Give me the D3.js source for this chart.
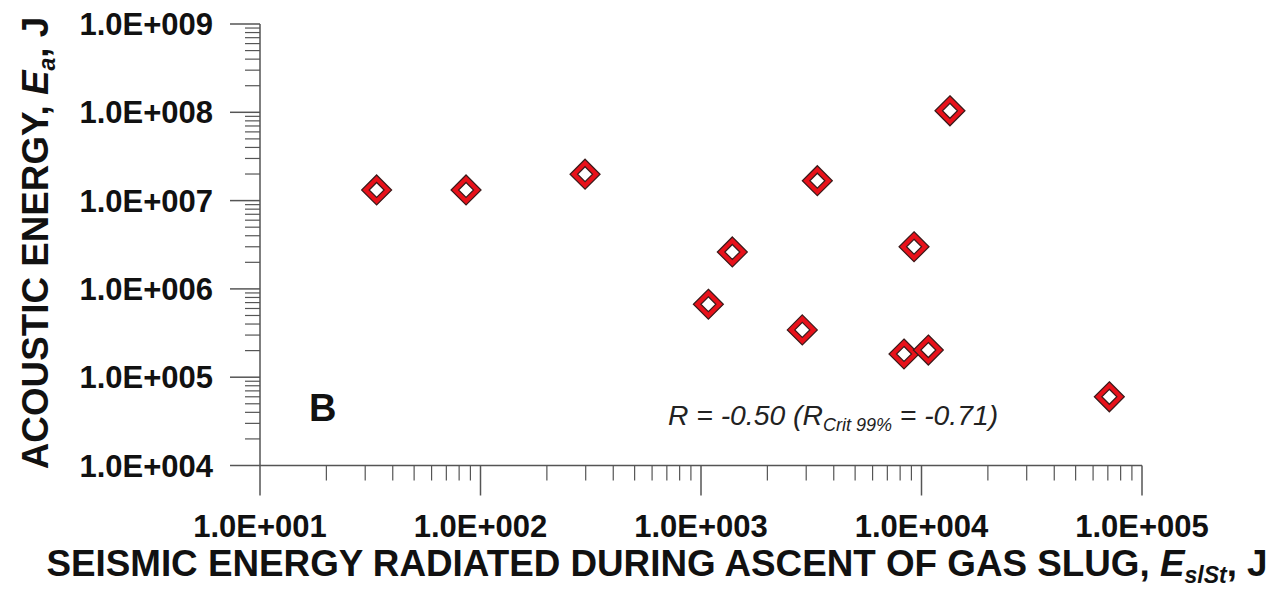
<!DOCTYPE html>
<html><head><meta charset="utf-8">
<script src="https://cdn.jsdelivr.net/npm/d3@7"></script>
<style>body{margin:0;background:#fff}svg{display:block}</style>
</head><body>
<svg id="c" width="1286" height="591"></svg>
<script>
const seismicEnergy = [33.8, 86, 298, 13460, 3370, 1387, 9250, 1080, 2880, 8330, 10740, 71100];
const acousticEnergy = [1.32e7, 1.32e7, 1.99e7, 1.04e8, 1.68e7, 2.62e6, 3.0e6, 6.7e5, 3.43e5, 1.83e5, 2.03e5, 6.0e4];
const xTicks = [1e1, 1e2, 1e3, 1e4, 1e5];
const yTicks = [1e4, 1e5, 1e6, 1e7, 1e8, 1e9];
const xTickLabels = ["1.0E+001", "1.0E+002", "1.0E+003", "1.0E+004", "1.0E+005"];
const yTickLabels = ["1.0E+004", "1.0E+005", "1.0E+006", "1.0E+007", "1.0E+008", "1.0E+009"];

const svg = d3.select("#c");
const FONT = "'Liberation Sans', Arial, sans-serif";
const x = d3.scaleLog().domain([1e1, 1e5]).range([260, 1142]);
const y = d3.scaleLog().domain([1e4, 1e9]).range([465.5, 24]);

const axisColor = "#555";
function minors(domain) {
  const out = [];
  for (let e = Math.log10(domain[0]); e < Math.log10(domain[1]); e++)
    for (let k = 2; k <= 9; k++) out.push(k * Math.pow(10, e));
  return out;
}

// X axis
const gx = svg.append("g").attr("transform", "translate(0,465.5)");
gx.append("line").attr("x1", x(1e1)).attr("x2", x(1e5)).attr("stroke", axisColor).attr("stroke-width", 1.5);
gx.selectAll(".mj").data(xTicks).join("line")
  .attr("x1", d => x(d)).attr("x2", d => x(d)).attr("y1", 0).attr("y2", 30)
  .attr("stroke", axisColor).attr("stroke-width", 1.5);
gx.selectAll(".mn").data(minors([1e1, 1e5])).join("line")
  .attr("x1", d => x(d)).attr("x2", d => x(d)).attr("y1", 0).attr("y2", 15)
  .attr("stroke", axisColor).attr("stroke-width", 1.2);
svg.append("g").selectAll("text").data(xTicks).join("text")
  .attr("x", d => x(d)).attr("y", 537).attr("text-anchor", "middle")
  .attr("font-family", FONT).attr("font-weight", "bold").attr("font-size", 31).attr("fill", "#111")
  .text((d, i) => xTickLabels[i]);

// Y axis
const gy = svg.append("g").attr("transform", "translate(260,0)");
gy.append("line").attr("y1", y(1e4)).attr("y2", y(1e9)).attr("stroke", axisColor).attr("stroke-width", 1.5);
gy.selectAll(".mj").data(yTicks).join("line")
  .attr("y1", d => y(d)).attr("y2", d => y(d)).attr("x1", 0).attr("x2", -30)
  .attr("stroke", axisColor).attr("stroke-width", 1.5);
gy.selectAll(".mn").data(minors([1e4, 1e9])).join("line")
  .attr("y1", d => y(d)).attr("y2", d => y(d)).attr("x1", 0).attr("x2", -15)
  .attr("stroke", axisColor).attr("stroke-width", 1.2);
svg.append("g").selectAll("text").data(yTicks).join("text")
  .attr("x", 213).attr("y", d => y(d)).attr("dy", "0.36em").attr("text-anchor", "end")
  .attr("font-family", FONT).attr("font-weight", "bold").attr("font-size", 31).attr("fill", "#111")
  .text((d, i) => yTickLabels[i]);

// Titles
const xt = svg.append("text").attr("x", 657).attr("y", 576).attr("text-anchor", "middle")
  .attr("font-family", FONT).attr("font-weight", "bold").attr("font-size", 36.8).attr("fill", "#111");
xt.append("tspan").text("SEISMIC ENERGY RADIATED DURING ASCENT OF GAS SLUG, ");
xt.append("tspan").attr("font-style", "italic").text("E");
xt.append("tspan").attr("font-style", "italic").attr("font-size", 23).attr("dy", 7).text("slSt");
xt.append("tspan").attr("dy", -7).text(", J");

const yt = svg.append("text").attr("transform", "translate(48,243) rotate(-90)").attr("text-anchor", "middle")
  .attr("font-family", FONT).attr("font-weight", "bold").attr("font-size", 36.8).attr("fill", "#111");
yt.append("tspan").text("ACOUSTIC ENERGY, ");
yt.append("tspan").attr("font-style", "italic").text("E");
yt.append("tspan").attr("font-style", "italic").attr("font-size", 23).attr("dy", 7).text("a");
yt.append("tspan").attr("dy", -7).text(", J");

// Panel letter
svg.append("text").attr("x", 309).attr("y", 421).attr("font-family", FONT).attr("font-weight", "bold")
  .attr("font-size", 38).attr("fill", "#111").text("B");

// R annotation
const rt = svg.append("text").attr("x", 668).attr("y", 425).attr("font-family", FONT)
  .attr("font-style", "italic").attr("font-size", 28.3).attr("fill", "#222");
rt.append("tspan").text("R = -0.50 (R");
rt.append("tspan").attr("font-size", 18).attr("dy", 6).text("Crit 99%");
rt.append("tspan").attr("dy", -6).text(" = -0.71)");

// Markers
const pts = seismicEnergy.map((v, i) => ({ sx: v, ay: acousticEnergy[i] }));
const dia = r => `M0,${-r}L${r},0L0,${r}L${-r},0Z`;
const g = svg.append("g").selectAll("g").data(pts).join("g")
  .attr("transform", d => `translate(${x(d.sx)},${y(d.ay)})`);
g.append("path").attr("d", dia(15)).attr("fill", "#e8111a").attr("stroke", "#3a1a1a").attr("stroke-width", 1.2);
g.append("path").attr("d", dia(7.5)).attr("fill", "#fff").attr("stroke", "#3a1a1a").attr("stroke-width", 1.2);
</script>
</body></html>
